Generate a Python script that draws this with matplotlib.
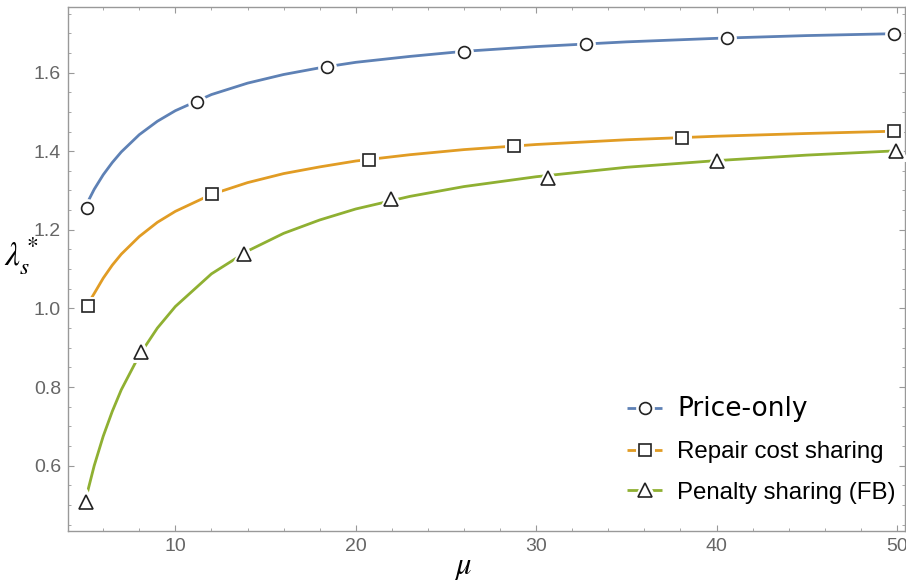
import matplotlib.pyplot as plt
from matplotlib.legend_handler import HandlerTuple
from matplotlib.ticker import MultipleLocator

plt.rcParams['mathtext.fontset'] = 'stix'

# curve values
mu = [5, 5.5, 6, 6.5, 7, 8, 9, 10, 12, 14, 16, 18, 20, 23, 26, 30, 35, 40, 45, 50]
price_only = [1.258, 1.303, 1.340, 1.371, 1.398, 1.442, 1.476, 1.503, 1.544, 1.573,
              1.595, 1.612, 1.626, 1.641, 1.654, 1.666, 1.678, 1.687, 1.694, 1.699]
repair = [1.000, 1.038, 1.077, 1.110, 1.138, 1.183, 1.219, 1.247, 1.290, 1.320,
          1.343, 1.360, 1.375, 1.391, 1.404, 1.417, 1.429, 1.438, 1.445, 1.451]
penalty = [0.510, 0.600, 0.675, 0.738, 0.793, 0.881, 0.950, 1.005, 1.088, 1.146,
           1.191, 1.225, 1.253, 1.285, 1.310, 1.335, 1.359, 1.376, 1.390, 1.401]

# marker positions
mk_price_x = [5.10, 11.20, 18.41, 26.01, 32.78, 40.58, 49.82]
mk_price_y = [1.256, 1.526, 1.615, 1.651, 1.672, 1.688, 1.699]
mk_repair_x = [5.14, 12.05, 20.74, 28.80, 38.07, 49.82]
mk_repair_y = [1.007, 1.291, 1.377, 1.414, 1.433, 1.452]
mk_pen_x = [5.03, 8.11, 13.79, 21.98, 30.65, 40.03, 49.93]
mk_pen_y = [0.508, 0.890, 1.139, 1.278, 1.333, 1.375, 1.401]

labels = ["Price-only", "Repair cost sharing", "Penalty sharing (FB)"]
colors = ["#5E81B5", "#E19C24", "#8FB032"]

fig = plt.figure(figsize=(9.06, 5.83), dpi=100)
ax = fig.add_axes([0.0751, 0.0892, 0.9238, 0.899])

series = [(price_only, mk_price_x, mk_price_y, 'o', 8.5),
          (repair, mk_repair_x, mk_repair_y, 's', 8),
          (penalty, mk_pen_x, mk_pen_y, '^', 10)]

handles = []
for (vals, mx, my, m, ms), c in zip(series, colors):
    ln, = ax.plot(mu, vals, color=c, lw=2, solid_capstyle='butt', zorder=2)
    halo, = ax.plot(mx, my, ls='none', marker=m, ms=ms, mfc='white', mec='white',
                    mew=5, zorder=3)
    mk, = ax.plot(mx, my, ls='none', marker=m, ms=ms, mfc='white', mec='#222222',
                  mew=1.2, zorder=4)
    handles.append((ln, halo, mk))

ax.set_xlim(4.05, 50.45)
ax.set_ylim(0.434, 1.767)

ax.xaxis.set_major_locator(MultipleLocator(10))
ax.xaxis.set_minor_locator(MultipleLocator(2))
ax.yaxis.set_major_locator(MultipleLocator(0.2))
ax.yaxis.set_minor_locator(MultipleLocator(0.05))
ax.yaxis.set_major_formatter(plt.FuncFormatter(lambda v, p: f"{v:.1f}"))

ax.tick_params(which='both', direction='in', top=True, right=True,
               color='#999999', labelcolor='#666666', labelsize=14,
               labelfontfamily='Liberation Sans')
ax.tick_params(which='major', length=4.5, width=0.8)
ax.tick_params(which='minor', length=2.5, width=0.6)
ax.tick_params(axis='x', pad=5)
ax.tick_params(axis='y', pad=5)
for s in ax.spines.values():
    s.set_color('#999999')
    s.set_linewidth(1)

ax.set_xlabel(r'$\mu$', fontsize=22)
ax.xaxis.set_label_coords(0.472, -0.069)
ax.xaxis.label.set_va('center')
ax.set_ylabel(r'$\lambda_s^*$', fontsize=24, rotation=0, va='center', ha='center')
ax.yaxis.set_label_coords(-0.056, 0.525)

leg = ax.legend(handles, labels, handler_map={tuple: HandlerTuple(ndivide=1)},
                loc='upper left', bbox_to_anchor=(0.654, 0.28), frameon=False,
                handlelength=1.45, handletextpad=0.62, labelspacing=0.78,
                borderpad=0, prop={'family': 'Liberation Sans', 'size': 17.3})
leg.get_texts()[0].set_fontfamily('DejaVu Sans')
leg.get_texts()[0].set_fontsize(19)

fig.savefig("out.png", dpi=100)
